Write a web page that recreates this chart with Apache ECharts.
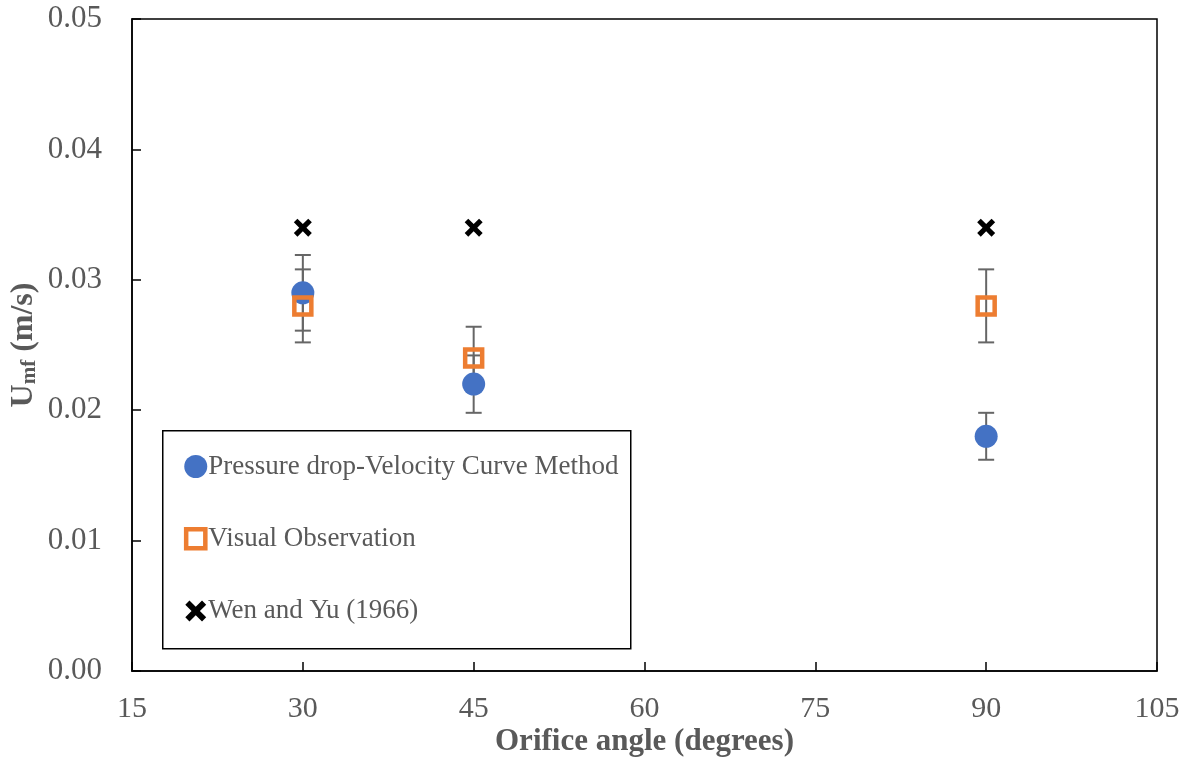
<!DOCTYPE html>
<html>
<head>
<meta charset="utf-8">
<script src="https://cdn.jsdelivr.net/npm/echarts@6/dist/echarts.min.js"></script>
<style>html,body{margin:0;padding:0;background:#fff;}#c{width:1190px;height:757px;}</style>
</head>
<body>
<div id="c"></div>
<script>
var angles = [30, 45, 90];
var pressureDrop = [0.029, 0.022, 0.018];
var pressureDropErr = [0.0029, 0.0022, 0.0018];
var visualObs = [0.028, 0.024, 0.028];
var visualObsErr = [0.0028, 0.0024, 0.0028];
var wenYu = [0.034, 0.034, 0.034];
var xTicks = [15, 30, 45, 60, 75, 90, 105];
var yTicks = [0, 0.01, 0.02, 0.03, 0.04, 0.05];
var seriesNames = ['Pressure drop-Velocity Curve Method', 'Visual Observation', 'Wen and Yu (1966)'];

var FONT = '"Liberation Serif", "Times New Roman", serif';
var GRAY = '#595959';
var xShape = 'M0,2 L2,0 L5,3 L8,0 L10,2 L7,5 L10,8 L8,10 L5,7 L2,10 L0,8 L3,5 Z';
var xPath = 'path://' + xShape;
var xLegendIcon = 'path://M-0.5,-0.5 M10.5,10.5 ' + xShape;
var sqLegendIcon = 'path://M-1,-1 M11,11 M0,0 L10,0 L10,10 L0,10 Z';

function pairs(ys) { return angles.map(function (a, i) { return [a, ys[i]]; }); }
function errData(ys, es) { return angles.map(function (a, i) { return [a, ys[i] - es[i], ys[i] + es[i]]; }); }

function errRender(params, api) {
  var x = api.value(0);
  var lo = api.coord([x, api.value(1)]);
  var hi = api.coord([x, api.value(2)]);
  var hw = 8;
  var st = { stroke: '#666666', lineWidth: 2 };
  return {
    type: 'group',
    children: [
      { type: 'line', shape: { x1: lo[0], y1: lo[1], x2: hi[0], y2: hi[1] }, style: st },
      { type: 'line', shape: { x1: lo[0] - hw, y1: lo[1], x2: lo[0] + hw, y2: lo[1] }, style: st },
      { type: 'line', shape: { x1: hi[0] - hw, y1: hi[1], x2: hi[0] + hw, y2: hi[1] }, style: st }
    ]
  };
}

var chart = echarts.init(document.getElementById('c'), null, { renderer: 'canvas' });
chart.setOption({
  animation: false,
  backgroundColor: '#ffffff',
  grid: { left: 132, right: 33, top: 19, bottom: 86, containLabel: false, outerBoundsMode: 'none',
    show: true, borderColor: '#000', borderWidth: 1.5, backgroundColor: 'transparent' },
  xAxis: {
    type: 'value', min: 15, max: 105, interval: 15,
    name: 'Orifice angle (degrees)', nameLocation: 'middle', nameGap: 55, nameMoveOverlap: false,
    nameTextStyle: { fontFamily: FONT, fontSize: 31, fontWeight: 'bold', color: GRAY },
    axisLine: { show: true, onZero: false, lineStyle: { color: '#000', width: 1.5 } },
    axisTick: { show: true, inside: true, length: 9, lineStyle: { color: '#000', width: 1.5 } },
    axisLabel: { fontFamily: FONT, fontSize: 30, color: GRAY, margin: 23,
      formatter: function (v) { return xTicks.indexOf(v) >= 0 ? String(v) : ''; } },
    splitLine: { show: false }
  },
  yAxis: {
    type: 'value', min: 0, max: 0.05, interval: 0.01,
    name: '{a|U}{b|mf}{a| (m/s)}', nameLocation: 'middle', nameGap: 92, nameRotate: 90, nameMoveOverlap: false,
    nameTextStyle: {
      rich: {
        a: { fontFamily: FONT, fontSize: 32, fontWeight: 'bold', color: GRAY, verticalAlign: 'bottom', lineHeight: 36 },
        b: { fontFamily: FONT, fontSize: 21, fontWeight: 'bold', color: GRAY, verticalAlign: 'bottom', lineHeight: 28 }
      }
    },
    axisLine: { show: true, lineStyle: { color: '#000', width: 1.5 } },
    axisTick: { show: true, inside: true, length: 9, lineStyle: { color: '#000', width: 1.5 } },
    axisLabel: { fontFamily: FONT, fontSize: 31, color: GRAY, margin: 30,
      formatter: function (v) {
        for (var i = 0; i < yTicks.length; i++) { if (Math.abs(yTicks[i] - v) < 1e-9) return yTicks[i].toFixed(2); }
        return '';
      } },
    splitLine: { show: false }
  },
  legend: {
    orient: 'vertical', left: 177, top: 448,
    itemWidth: 23, itemHeight: 23, itemGap: 45,
    textStyle: { fontFamily: FONT, fontSize: 27, color: GRAY, padding: [0, 0, 0, -4] },
    data: [
      { name: seriesNames[0] },
      { name: seriesNames[1], icon: sqLegendIcon, itemStyle: { borderWidth: 4.5 } },
      { name: seriesNames[2], icon: xLegendIcon }
    ]
  },
  graphic: [
    { type: 'rect', left: 162, top: 430, shape: { width: 468, height: 218 },
      style: { fill: '#fff', stroke: '#000', lineWidth: 1.5 }, z: 0 }
  ],
  series: [
    { type: 'custom', name: 'errPD', renderItem: errRender, data: errData(pressureDrop, pressureDropErr), z: 3, encode: { x: 0, y: [1, 2] } },
    { type: 'custom', name: 'errVO', renderItem: errRender, data: errData(visualObs, visualObsErr), z: 3, encode: { x: 0, y: [1, 2] } },
    { type: 'scatter', name: seriesNames[0], data: pairs(pressureDrop), symbol: 'circle', symbolSize: 23,
      itemStyle: { color: '#4472C4', opacity: 1 }, z: 4 },
    { type: 'scatter', name: seriesNames[1], data: pairs(visualObs), symbol: 'rect', symbolSize: 17,
      itemStyle: { color: 'rgba(0,0,0,0)', borderColor: '#ED7D31', borderWidth: 4.5, opacity: 1 }, z: 5 },
    { type: 'scatter', name: seriesNames[2], data: pairs(wenYu), symbol: xPath, symbolSize: 18,
      itemStyle: { color: '#000', opacity: 1 }, z: 6 }
  ]
});
</script>
</body>
</html>
